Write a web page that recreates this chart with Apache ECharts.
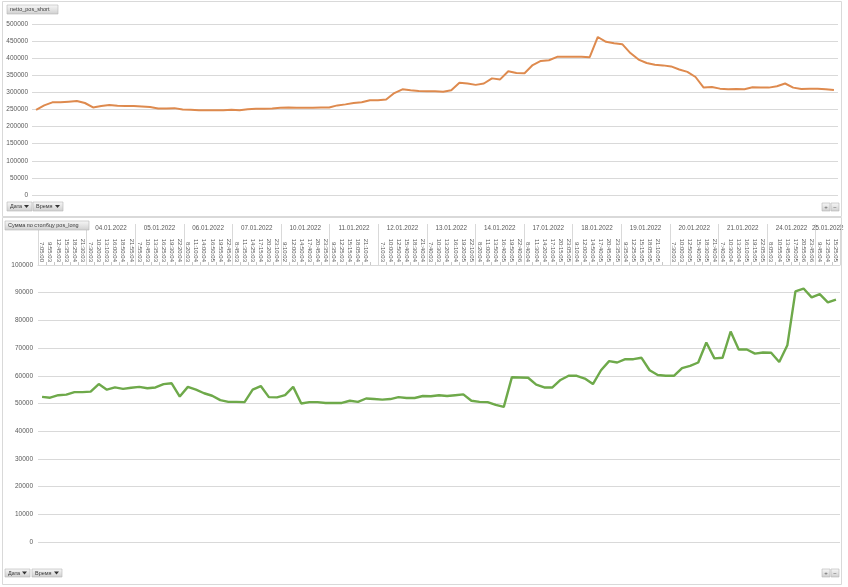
<!DOCTYPE html>
<html><head><meta charset="utf-8">
<script src="https://cdn.jsdelivr.net/npm/echarts@6/dist/echarts.min.js"></script>
<style>html,body{margin:0;padding:0;background:#fff;}#c{width:848px;height:587px;}</style>
</head><body><div id="c"></div>
<script>
// ---------------- data ----------------
const dayNames = ['03.01.2022','04.01.2022','05.01.2022','06.01.2022','07.01.2022','10.01.2022','11.01.2022','12.01.2022','13.01.2022','14.01.2022','17.01.2022','18.01.2022','19.01.2022','20.01.2022','21.01.2022','24.01.2022','25.01.2022'];
const daySlotTimes = [
  ['7:05:00','9:55:03','12:45:03','15:35:03','18:25:04','21:30:03'],
  ['7:30:03','10:20:03','13:10:03','16:00:04','18:50:04','21:55:04'],
  ['7:55:03','10:45:03','13:35:03','16:25:03','19:30:04','22:20:04'],
  ['8:20:03','11:10:04','14:00:04','16:50:05','19:55:04','22:45:04'],
  ['8:45:03','11:35:03','14:25:03','17:15:04','20:20:03','23:10:04'],
  ['9:10:02','12:00:03','14:50:04','17:40:03','20:45:04','23:35:04'],
  ['9:35:04','12:25:03','15:15:04','18:05:04','21:10:04',''],
  ['7:10:03','10:00:04','12:50:04','15:40:04','18:30:04','21:40:04'],
  ['7:40:03','10:30:03','13:20:04','16:10:04','19:20:05','22:10:05'],
  ['8:20:04','11:00:04','13:50:04','16:40:05','19:50:05','22:40:06'],
  ['8:40:04','11:30:04','14:20:04','17:10:04','20:15:05','23:05:05'],
  ['9:10:04','12:00:04','14:50:04','17:40:05','20:45:05','23:35:05'],
  ['9:35:04','12:25:05','15:15:05','18:05:05','21:10:05',''],
  ['7:30:03','10:00:03','12:50:05','15:40:05','18:30:05','21:40:04'],
  ['7:40:04','10:30:04','13:20:04','16:10:05','19:15:05','22:05:05'],
  ['8:05:03','10:55:04','13:45:05','17:50:05','20:55:06','23:45:06'],
  ['9:45:04','12:35:04','15:25:05']
];
const nettoPosShort = [
  249000,262000,271000,271000,273000,275000,269000,256000,260000,263000,
  261000,260000,260000,259000,257000,253000,253000,254000,250000,249000,
  248000,248000,248000,248000,249000,248000,251000,252000,252000,253000,
  255000,256000,255000,255000,255000,256000,256000,262000,265000,269000,
  271000,277000,277000,279000,298000,309000,306000,304000,303000,303000,
  302000,306000,328000,326000,322000,326000,341000,338000,362000,357000,
  356000,380000,392000,394000,404000,404000,404000,404000,403000,462000,
  448000,444000,441000,415000,396000,386000,381000,379000,376000,367000,
  360000,345000,314000,316000,311000,309000,310000,309000,315000,314000,
  314000,318000,326000,314000,310000,311000,311000,309000,307000
];
const posLong = [
  52400,52100,53000,53200,54100,54100,54300,57000,55000,55800,
  55300,55700,56000,55500,55800,57000,57300,52500,56000,55000,
  53700,52800,51200,50600,50600,50500,55000,56300,52300,52200,
  53000,56000,50000,50500,50500,50200,50200,50200,51000,50600,
  51800,51600,51400,51600,52300,52000,52000,52700,52600,53000,
  52700,53000,53300,51000,50600,50500,49500,48800,59500,59400,
  59300,56800,55800,55800,58500,60000,60000,59000,57000,62000,
  65300,64800,66000,66000,66500,62000,60300,60000,60000,62800,
  63600,64800,72000,66300,66500,76000,69500,69500,68000,68400,
  68300,65000,71000,90500,91500,88300,89500,86500,87500
];
const shortTitle = 'netto_pos_short';
const longTitle = 'Сумма по столбцу pos_long';
const fieldButtons = ['Дата', 'Время'];

// ---------------- build categories ----------------
const categories = [], slotTime = [], dayStart = new Set(), dateAt = {};
let k = 0;
dayNames.forEach((d, di) => {
  const times = daySlotTimes[di], n = times.length;
  dayStart.add(k);
  dateAt[k + Math.floor(n / 2)] = (n % 2 === 0) ? 'e' : 'o';
  times.forEach((t, j) => { categories.push(d + '|' + j + '|' + t); slotTime.push(t); k++; });
});

const FONT = '"Liberation Sans", Arial, sans-serif';
const TXT = '#595959';
const GRID = '#d9d9d9';
const G1 = {left: 38, top: 265, width: 802, height: 277};
const bw = G1.width / categories.length;

function grad() {
  return new echarts.graphic.LinearGradient(0, 0, 0, 1, [{offset: 0, color: '#f8f8f8'}, {offset: 1, color: '#cfcfcf'}]);
}
function button(x, y, w, h, text, arrow) {
  const els = [{type: 'rect', z: 100, shape: {x: x, y: y, width: w, height: h}, style: {fill: grad(), stroke: '#b5b5b5', lineWidth: 0.6}},
    {type: 'text', z: 101, x: x + 3, y: y + h / 2, style: {text: text, font: '5.5px ' + FONT, fill: '#3a3a3a', verticalAlign: 'middle'}}];
  if (arrow) els.push({type: 'polygon', z: 101, shape: {points: [[x + w - 8, y + h / 2 - 1.5], [x + w - 3, y + h / 2 - 1.5], [x + w - 5.5, y + h / 2 + 1.5]]}, style: {fill: '#333'}});
  return els;
}
function pm(y) {
  return [
    {type: 'rect', z: 100, shape: {x: 822, y: y, width: 8, height: 8}, style: {fill: grad(), stroke: '#b5b5b5', lineWidth: 0.6}},
    {type: 'text', z: 101, x: 826, y: y + 4, style: {text: '+', font: '6px ' + FONT, fill: '#555', align: 'center', verticalAlign: 'middle'}},
    {type: 'rect', z: 100, shape: {x: 831, y: y, width: 8, height: 8}, style: {fill: grad(), stroke: '#b5b5b5', lineWidth: 0.6}},
    {type: 'text', z: 101, x: 835, y: y + 4, style: {text: '−', font: '6px ' + FONT, fill: '#555', align: 'center', verticalAlign: 'middle'}}
  ];
}

const elements = [].concat(
  [{type: 'rect', z: 90, shape: {x: 2.5, y: 1.5, width: 839, height: 215}, style: {fill: 'none', stroke: GRID, lineWidth: 1}},
   {type: 'rect', z: 90, shape: {x: 2.5, y: 217.5, width: 839, height: 367}, style: {fill: 'none', stroke: GRID, lineWidth: 1}}],
  button(7, 5, 51, 9, shortTitle, false),
  button(7, 202, 25, 9, fieldButtons[0], true),
  button(33, 202, 30, 9, fieldButtons[1], true),
  pm(203),
  button(5, 221, 84, 9, longTitle, false),
  button(5, 569, 25, 8, fieldButtons[0], true),
  button(32, 569, 30, 8, fieldButtons[1], true),
  pm(569)
);

const yLabel = {fontSize: 6.5, color: TXT, fontFamily: FONT, formatter: v => String(v)};

const option = {
  animation: false,
  backgroundColor: '#fff',
  grid: [
    {left: 32, top: 24, width: 806, height: 171, outerBoundsMode: 'none', containLabel: false},
    Object.assign({outerBoundsMode: 'none', containLabel: false}, G1),
    Object.assign({outerBoundsMode: 'none', containLabel: false}, G1)
  ],
  xAxis: [
    {gridIndex: 0, type: 'category', data: categories, boundaryGap: true, show: false},
    {gridIndex: 1, type: 'category', data: categories, boundaryGap: true, position: 'top',
      axisLine: {show: true, onZero: false, lineStyle: {color: GRID, width: 1}},
      axisTick: {show: true, interval: 0, length: 3, alignWithLabel: false, lineStyle: {color: '#c8c8c8'}},
      axisLabel: {interval: 0, rotate: 90, margin: 3, fontSize: 6, color: TXT, fontFamily: FONT, formatter: (v, i) => slotTime[i]},
      splitLine: {show: false}},
    {gridIndex: 2, type: 'category', data: categories, boundaryGap: true, position: 'top',
      axisLine: {show: false, onZero: false},
      axisTick: {show: true, interval: (i) => dayStart.has(i), length: 41, alignWithLabel: false, lineStyle: {color: GRID}},
      axisLabel: {interval: (i) => (i in dateAt), margin: 34, fontSize: 6.3, color: TXT, fontFamily: FONT,
        formatter: (v, i) => '{' + (dateAt[i] || 'o') + '|' + v.split('|')[0] + '}',
        rich: {e: {padding: [0, bw, 0, 0], fontSize: 6.3, color: TXT, fontFamily: FONT}, o: {fontSize: 6.3, color: TXT, fontFamily: FONT}}},
      splitLine: {show: false}}
  ],
  yAxis: [
    {gridIndex: 0, type: 'value', min: 0, max: 500000, interval: 50000,
      axisLine: {show: false}, axisTick: {show: false},
      axisLabel: Object.assign({margin: 4}, yLabel),
      splitLine: {show: true, lineStyle: {color: GRID, width: 1}}},
    {gridIndex: 1, type: 'value', min: 0, max: 100000, interval: 10000,
      axisLine: {show: false}, axisTick: {show: false},
      axisLabel: Object.assign({margin: 5}, yLabel),
      splitLine: {show: true, lineStyle: {color: GRID, width: 1}}},
    {gridIndex: 2, type: 'value', min: 0, max: 1, show: false}
  ],
  series: [
    {name: shortTitle, type: 'line', xAxisIndex: 0, yAxisIndex: 0, data: nettoPosShort, symbol: 'none',
      lineStyle: {color: '#DE8A4E', width: 2}, itemStyle: {color: '#DE8A4E'}},
    {name: longTitle, type: 'line', xAxisIndex: 1, yAxisIndex: 1, data: posLong, symbol: 'none',
      lineStyle: {color: '#6EA94A', width: 2.4}, itemStyle: {color: '#6EA94A'}}
  ],
  graphic: {elements: elements}
};

const chart = echarts.init(document.getElementById('c'), null, {renderer: 'canvas'});
chart.setOption(option);
</script>
</body></html>
